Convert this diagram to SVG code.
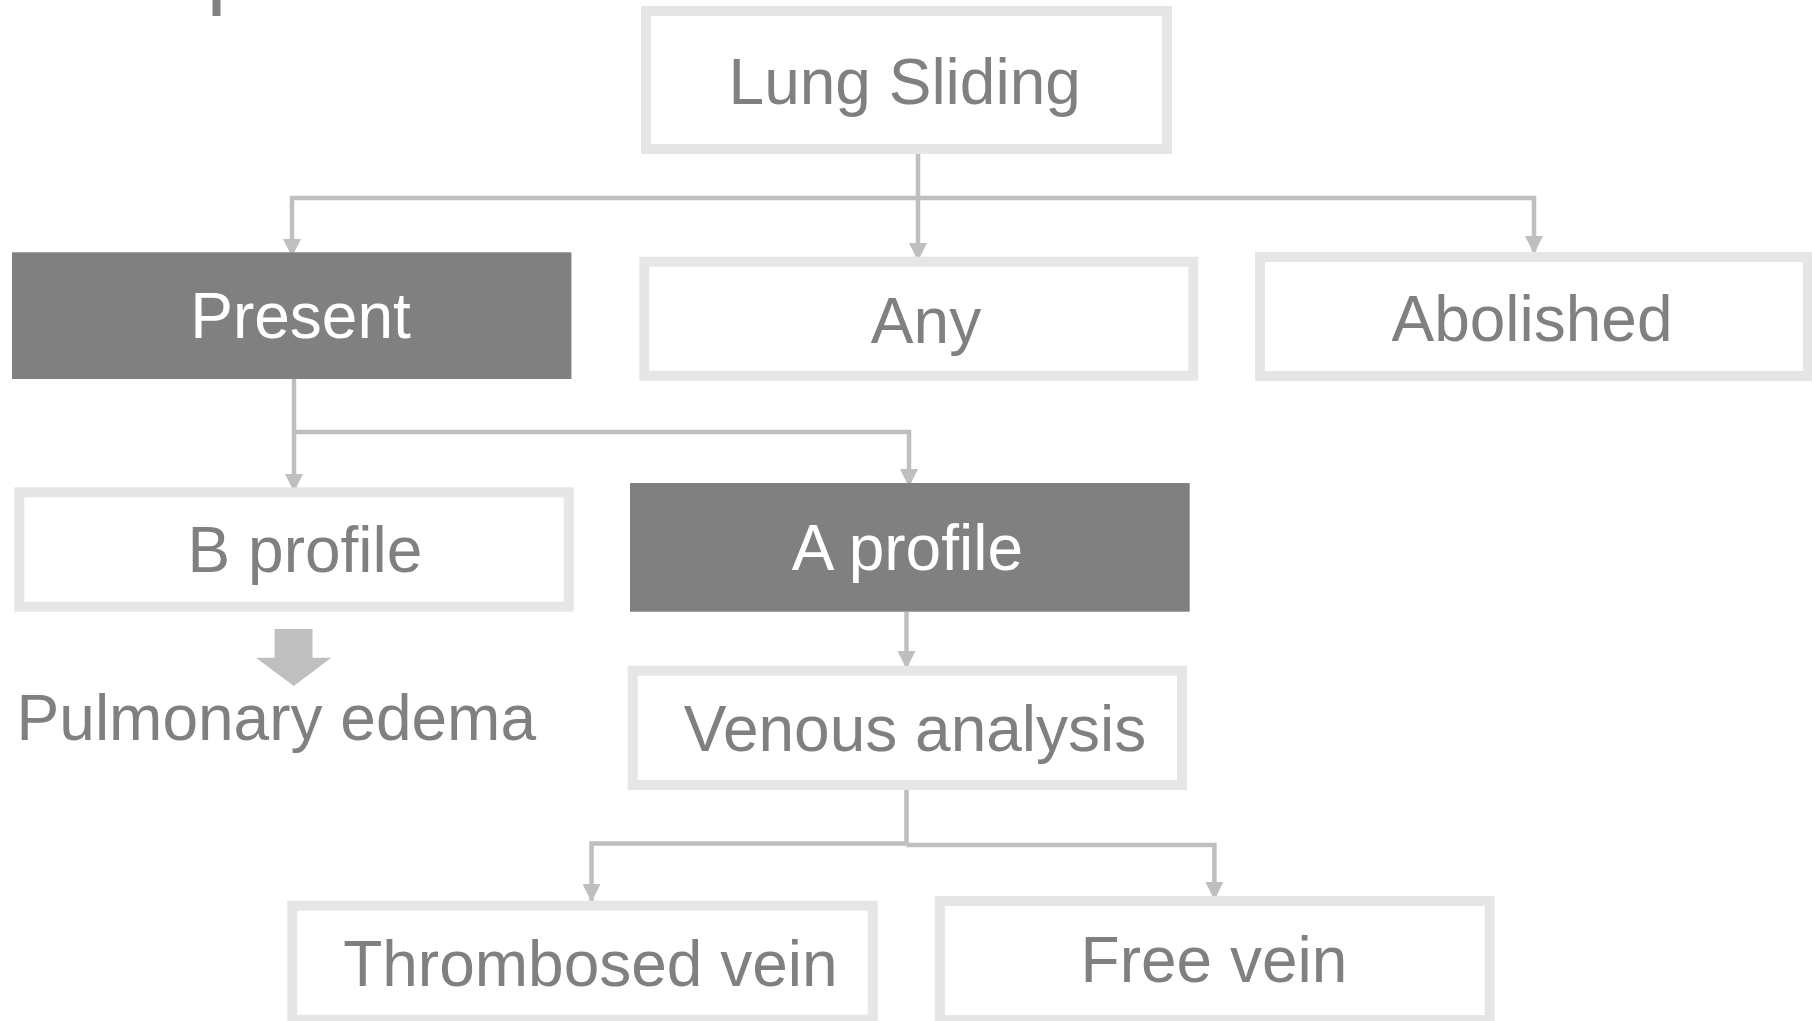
<svg xmlns="http://www.w3.org/2000/svg" width="1812" height="1021" viewBox="0 0 1812 1021">
<style>
.box{fill:#ffffff;stroke:#e6e6e6;stroke-width:10}
.dark{fill:#808080}
.t{font-family:"Liberation Sans",Arial,sans-serif;font-size:64px;fill:#808080;text-anchor:middle}
.tw{fill:#ffffff}
.c{fill:none;stroke:#bfbfbf;stroke-width:4.5}
</style>
<defs>
<marker id="ah" markerUnits="userSpaceOnUse" markerWidth="18" markerHeight="18" refX="18" refY="9" orient="auto" viewBox="0 0 18 18">
<path d="M0,0 L18,9 L0,18 z" fill="#bfbfbf"/>
</marker>
</defs>
<rect x="212.5" y="0" width="8" height="16" fill="#808080"/>
<g id="connectors">
<path class="c" d="M918,154 V198 H292 V257" marker-end="url(#ah)"/>
<path class="c" d="M918,198 V261" marker-end="url(#ah)"/>
<path class="c" d="M918,198 H1534 V254" marker-end="url(#ah)"/>
<path class="c" d="M294,379 V492" marker-end="url(#ah)"/>
<path class="c" d="M294,432 H909 V487" marker-end="url(#ah)"/>
<path class="c" d="M906.5,612 V669" marker-end="url(#ah)"/>
<path class="c" d="M906.5,790 V843.5 H591.5 V902" marker-end="url(#ah)"/>
<path class="c" d="M906.5,845 H1214.4 V900" marker-end="url(#ah)"/>
<polygon points="274.6,629 312.5,629 312.5,657.7 331.25,657.7 293.75,686 256,657.7 274.6,657.7" fill="#bfbfbf"/>
</g>
<g id="lung-sliding"><rect class="box" x="646" y="11" width="521" height="138"/><text class="t" x="904.7" y="104">Lung Sliding</text></g>
<g id="present"><rect class="dark" x="12" y="252.3" width="559.4" height="126.7"/><text class="t tw" x="300.5" y="337.7">Present</text></g>
<g id="any"><rect class="box" x="644.3" y="261.7" width="549" height="114"/><text class="t" x="926" y="343.3">Any</text></g>
<g id="abolished"><rect class="box" x="1260" y="257" width="548" height="119"/><text class="t" x="1532" y="340.7">Abolished</text></g>
<g id="b-profile"><rect class="box" x="19.3" y="492.3" width="549.4" height="114.4"/><text class="t" x="305" y="572.3">B profile</text></g>
<g id="pulmonary-edema"><text class="t" x="276.3" y="740">Pulmonary edema</text></g>
<g id="a-profile"><rect class="dark" x="630" y="483" width="559.7" height="128.7"/><text class="t tw" x="907.4" y="570">A profile</text></g>
<g id="venous-analysis"><rect class="box" x="632.7" y="670.7" width="549.3" height="114.3"/><text class="t" x="915" y="750.7">Venous analysis</text></g>
<g id="thrombosed-vein"><rect class="box" x="292.3" y="905.7" width="580.4" height="114"/><text class="t" x="590.4" y="985.7">Thrombosed vein</text></g>
<g id="free-vein"><rect class="box" x="939.9" y="901" width="549.7" height="119"/><text class="t" x="1214" y="982.3">Free vein</text></g>
</svg>
